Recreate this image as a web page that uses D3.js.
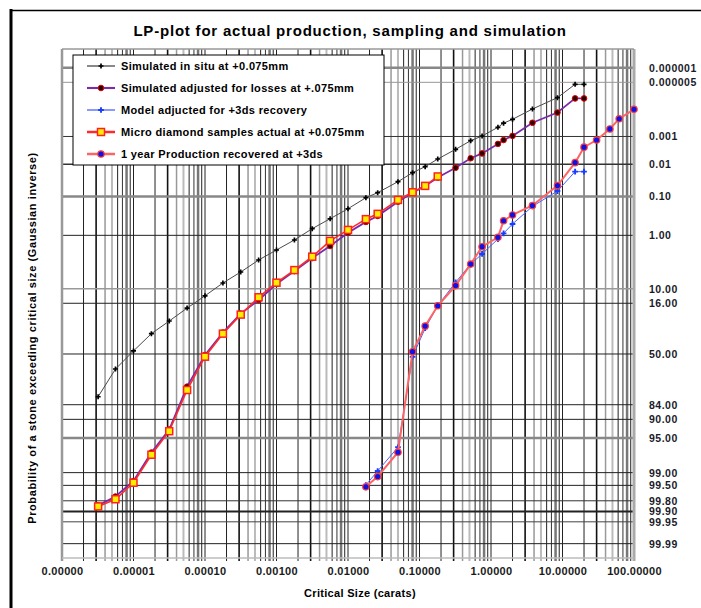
<!DOCTYPE html>
<html><head><meta charset="utf-8">
<script src="https://cdn.jsdelivr.net/npm/d3@7"></script>
<style>
html,body{margin:0;padding:0;background:#fff;}
svg{display:block;font-family:"Liberation Sans",Arial,sans-serif;}
</style></head>
<body><svg id="c" width="701" height="608"></svg>
<script>
// ---------- data (sizes in carats, probability in %) ----------
const sizesSimulated = [0.0000032,0.0000056,0.00001,0.0000178,0.0000316,0.0000562,0.0001,0.000178,0.000316,0.000562,0.001,0.00178,0.00316,0.00562,0.01,0.0178,0.026,0.05,0.08,0.12,0.18,0.32,0.52,0.75,1.25,1.5,2.0,3.8,8.5,15,20];
const simInSitu = [79.9,61.6,47.6,34.5,25.9,18.4,12.7,8.2,5.4,3.27,2.07,1.27,0.70,0.40,0.22,0.109,0.078,0.0365,0.0189,0.012,0.0066,0.0030,0.00144,0.00096,0.00044,0.00030,0.00021,0.000078,0.000025,0.0000062,0.0000062];
const simAdjusted = [99.85,99.74,99.36,97.33,93.06,73.9,50.8,33.7,21.4,14.5,8.5,5.2,3.0,1.71,0.87,0.48,0.34,0.141,0.078,0.049,0.027,0.013,0.0062,0.0042,0.0019,0.00136,0.00095,0.00029,0.00011,0.000027,0.000027];
const sizesMicro = [0.0000032,0.0000056,0.00001,0.0000178,0.0000316,0.0000562,0.0001,0.000178,0.000316,0.000562,0.001,0.00178,0.00316,0.00562,0.01,0.0178,0.026,0.05,0.08,0.12,0.18];
const microSamples = [99.86,99.78,99.42,97.59,93.5,76.0,52.1,34.5,22.0,13.3,8.1,5.0,2.82,1.33,0.75,0.41,0.30,0.126,0.076,0.049,0.025];
const sizesModel = [0.0178,0.026,0.05,0.08,0.12,0.18,0.32,0.52,0.75,1.25,1.5,2.0,3.8,8.5,15,20];
const modelAdjusted = [99.49,98.91,96.63,52.1,30.7,17.2,8.0,3.9,2.49,1.21,0.90,0.54,0.19,0.070,0.0175,0.0175];
const sizesProduction = [0.0178,0.026,0.05,0.08,0.12,0.18,0.32,0.52,0.75,1.25,1.5,2.0,3.8,8.5,15,20,30,46,62,100];
const production = [99.54,99.19,97.30,48.2,29.2,17.2,9.0,3.9,1.77,1.11,0.45,0.32,0.18,0.048,0.0088,0.0025,0.00136,0.00051,0.00020,0.00008];

const seriesNames = ["Simulated in situ at  +0.075mm","Simulated adjusted for losses at +.075mm","Model adjucted for +3ds recovery","Micro diamond  samples actual at +0.075mm","1 year Production recovered at +3ds"];
const xTickValues = [0.000001,0.00001,0.0001,0.001,0.01,0.1,1,10,100];
const xTickLabels = ["0.00000","0.00001","0.00010","0.00100","0.01000","0.10000","1.00000","10.00000","100.00000"];
const yTickValues = [0.000001,0.000005,0.001,0.01,0.1,1,10,16,50,84,90,95,99,99.5,99.8,99.9,99.95,99.99];
const yTickLabels = ["0.000001","0.000005","0.001","0.01","0.10","1.00","10.00","16.00","50.00","84.00","90.00","95.00","99.00","99.50","99.80","99.90","99.95","99.99"];

// ---------- inverse normal (Acklam) ----------
function probit(p){
  const a=[-3.969683028665376e+01,2.209460984245205e+02,-2.759285104469687e+02,1.383577518672690e+02,-3.066479806614716e+01,2.506628277459239e+00];
  const b=[-5.447609879822406e+01,1.615858368580409e+02,-1.556989798598866e+02,6.680131188771972e+01,-1.328068155288572e+01];
  const c=[-7.784894002430293e-03,-3.223964580411365e-01,-2.400758277161838e+00,-2.549732539343734e+00,4.374664141464968e+00,2.938163982698783e+00];
  const d=[7.784695709041462e-03,3.224671290700398e-01,2.445134137142996e+00,3.754408661907416e+00];
  const pl=0.02425;
  if(p<pl){const q=Math.sqrt(-2*Math.log(p));return (((((c[0]*q+c[1])*q+c[2])*q+c[3])*q+c[4])*q+c[5])/((((d[0]*q+d[1])*q+d[2])*q+d[3])*q+1);}
  if(p<=1-pl){const q=p-0.5,r=q*q;return (((((a[0]*r+a[1])*r+a[2])*r+a[3])*r+a[4])*r+a[5])*q/(((((b[0]*r+b[1])*r+b[2])*r+b[3])*r+b[4])*r+1);}
  const q=Math.sqrt(-2*Math.log(1-p));return -(((((c[0]*q+c[1])*q+c[2])*q+c[3])*q+c[4])*q+c[5])/((((d[0]*q+d[1])*q+d[2])*q+d[3])*q+1);
}

const svg = d3.select("#c");
const L=62,R=634,T=49,B=558;
const x = d3.scaleLog().domain([1e-6,100]).range([L,R]);
const yz = d3.scaleLinear().domain([-5.98,4.0]).range([T,B]);
const y = pct => yz(probit(pct/100));

// outer frame
svg.append("line").attr("x1",11).attr("x2",11).attr("y1",9).attr("y2",608).attr("stroke","#000").attr("stroke-width",3);
svg.append("line").attr("x1",10).attr("x2",701).attr("y1",10.5).attr("y2",10.5).attr("stroke","#000").attr("stroke-width",1.5);

// title
svg.append("text").attr("x",350).attr("y",36).attr("text-anchor","middle").attr("font-size",15).attr("font-weight","bold").attr("letter-spacing",0.8).attr("fill","#000")
  .text("LP-plot for actual production, sampling and simulation");

// vertical grid
const vStyle = {1:["#222",1],2:["#222",1],3:["#111",1.6],4:["#999",1.5],5:["#bbb",2],6:["#222",1],7:["#333",1],8:["#777",2.5],9:["#222",1]};
const gv = svg.append("g");
for(let k=-6;k<=1;k++){
  for(let m=1;m<=9;m++){
    const v=m*Math.pow(10,k);
    if(k===-6&&m===1) continue;
    const st=vStyle[m];
    gv.append("line").attr("x1",x(v)).attr("x2",x(v)).attr("y1",T).attr("y2",B+3)
      .attr("stroke",st[0]).attr("stroke-width",st[1]);
  }
}
// horizontal grid
const hStyle = [["#888",2.5],["#999",1],["#333",1],["#333",1.5],["#888",2.5],["#222",1],["#999",1.5],["#222",1],["#222",1],["#222",1],["#222",1],["#888",2.5],["#222",1],["#222",1],["#333",1],["#222",2],["#444",1],["#222",1]];
yTickValues.forEach((v,i)=>{
  svg.append("line").attr("x1",L).attr("x2",R).attr("y1",y(v)).attr("y2",y(v))
    .attr("stroke",hStyle[i][0]).attr("stroke-width",hStyle[i][1]);
});
// plot border
svg.append("line").attr("x1",L).attr("x2",L).attr("y1",T).attr("y2",B+3).attr("stroke","#999").attr("stroke-width",2.5);
svg.append("line").attr("x1",R).attr("x2",R).attr("y1",T).attr("y2",B+3).attr("stroke","#aaa").attr("stroke-width",3);
svg.append("line").attr("x1",L).attr("x2",R).attr("y1",T).attr("y2",T).attr("stroke","#999").attr("stroke-width",1.5);
svg.append("line").attr("x1",L).attr("x2",R).attr("y1",B).attr("y2",B).attr("stroke","#bbb").attr("stroke-width",1.5);

// x axis labels
const xa = d3.axisBottom(x).tickValues(xTickValues).tickFormat((d,i)=>xTickLabels[i]).tickSize(0).tickPadding(0);
const gx = svg.append("g").attr("transform",`translate(0,${B+2})`).call(xa);
gx.select(".domain").remove();
gx.selectAll("text").attr("dy",0).attr("y",14.5).attr("font-size",11).attr("font-weight","bold").attr("letter-spacing",0.3).attr("fill","#1a1a1a").attr("font-family","Liberation Sans, Arial, sans-serif");

// y axis labels (right)
const ya = d3.axisRight(yz).tickValues(yTickValues.map(v=>probit(v/100))).tickFormat((d,i)=>yTickLabels[i]).tickSize(0).tickPadding(0);
const gy = svg.append("g").attr("transform",`translate(649,0)`).call(ya);
gy.select(".domain").remove();
gy.selectAll("text").attr("font-size",10.5).attr("font-weight","bold").attr("letter-spacing",0.5).attr("fill","#1a1a2a").attr("font-family","Liberation Sans, Arial, sans-serif");

// axis titles
svg.append("text").attr("x",360).attr("y",597).attr("text-anchor","middle").attr("font-size",11).attr("font-weight","bold").attr("letter-spacing",0.3).text("Critical Size (carats)");
svg.append("text").attr("transform","translate(36,338) rotate(-90)").attr("text-anchor","middle").attr("font-size",11).attr("font-weight","bold").attr("letter-spacing",0.6)
  .text("Probability of a stone exceeding critical size  (Gaussian inverse)");

// series
const line = d3.line().x(d=>x(d[0])).y(d=>y(d[1]));
const zip = (xs,ys)=>xs.map((v,i)=>[v,ys[i]]);
const s1 = zip(sizesSimulated, simInSitu);
const s2 = zip(sizesSimulated, simAdjusted);
const s3 = zip(sizesModel, modelAdjusted);
const s4 = zip(sizesMicro, microSamples);
const s5 = zip(sizesProduction, production);

const styles = [
  {data:s1, stroke:"#4a4a4a", w:1, marker:"cross1"},
  {data:s2, stroke:"#7a2ca8", w:1.8, marker:"dot2"},
  {data:s3, stroke:"#4a62ff", w:1, marker:"cross3"},
  {data:s4, stroke:"#ff2a2a", w:1.6, marker:"sq"},
  {data:s5, stroke:"#ff6464", w:2, marker:"dot5"}
];
function drawMarker(g, cx, cy, type){
  if(type==="cross1"){
    g.append("path").attr("transform",`translate(${cx},${cy})`).attr("d",d3.symbol(d3.symbolCross,14)()).attr("fill","#000");
  } else if(type==="dot2"){
    g.append("circle").attr("cx",cx).attr("cy",cy).attr("r",2.8).attr("fill","#2a0000").attr("stroke","#e00000").attr("stroke-width",1);
  } else if(type==="cross3"){
    g.append("path").attr("transform",`translate(${cx},${cy})`).attr("d",d3.symbol(d3.symbolCross,18)()).attr("fill","#1a3cff");
  } else if(type==="sq"){
    g.append("rect").attr("x",cx-3.5).attr("y",cy-3.5).attr("width",7).attr("height",7).attr("fill","#ffee00").attr("stroke","#ff2020").attr("stroke-width",1.5);
  } else if(type==="dot5"){
    g.append("circle").attr("cx",cx).attr("cy",cy).attr("r",3.2).attr("fill","#0a14e6").attr("stroke","#ff3b3b").attr("stroke-width",1.2);
  }
}
styles.forEach(s=>{
  const g = svg.append("g");
  g.append("path").datum(s.data).attr("d",line).attr("fill","none").attr("stroke",s.stroke).attr("stroke-width",s.w);
  s.data.forEach(d=>drawMarker(g, x(d[0]), y(d[1]), s.marker));
});

// legend
const lg = svg.append("g");
lg.append("rect").attr("x",73).attr("y",55).attr("width",311).attr("height",110).attr("fill","#fff").attr("stroke","#000").attr("stroke-width",1);
seriesNames.forEach((n,i)=>{
  const yy = 66 + i*22;
  const st = styles[i];
  lg.append("line").attr("x1",87).attr("x2",115).attr("y1",yy).attr("y2",yy).attr("stroke",st.stroke).attr("stroke-width",i>=3?2.5:st.w+0.3);
  drawMarker(lg, 101, yy, st.marker);
  lg.append("text").attr("x",121).attr("y",yy+4).attr("font-size",11).attr("font-weight","bold").attr("letter-spacing",0.35).attr("fill","#000").text(n);
});
</script></body></html>
